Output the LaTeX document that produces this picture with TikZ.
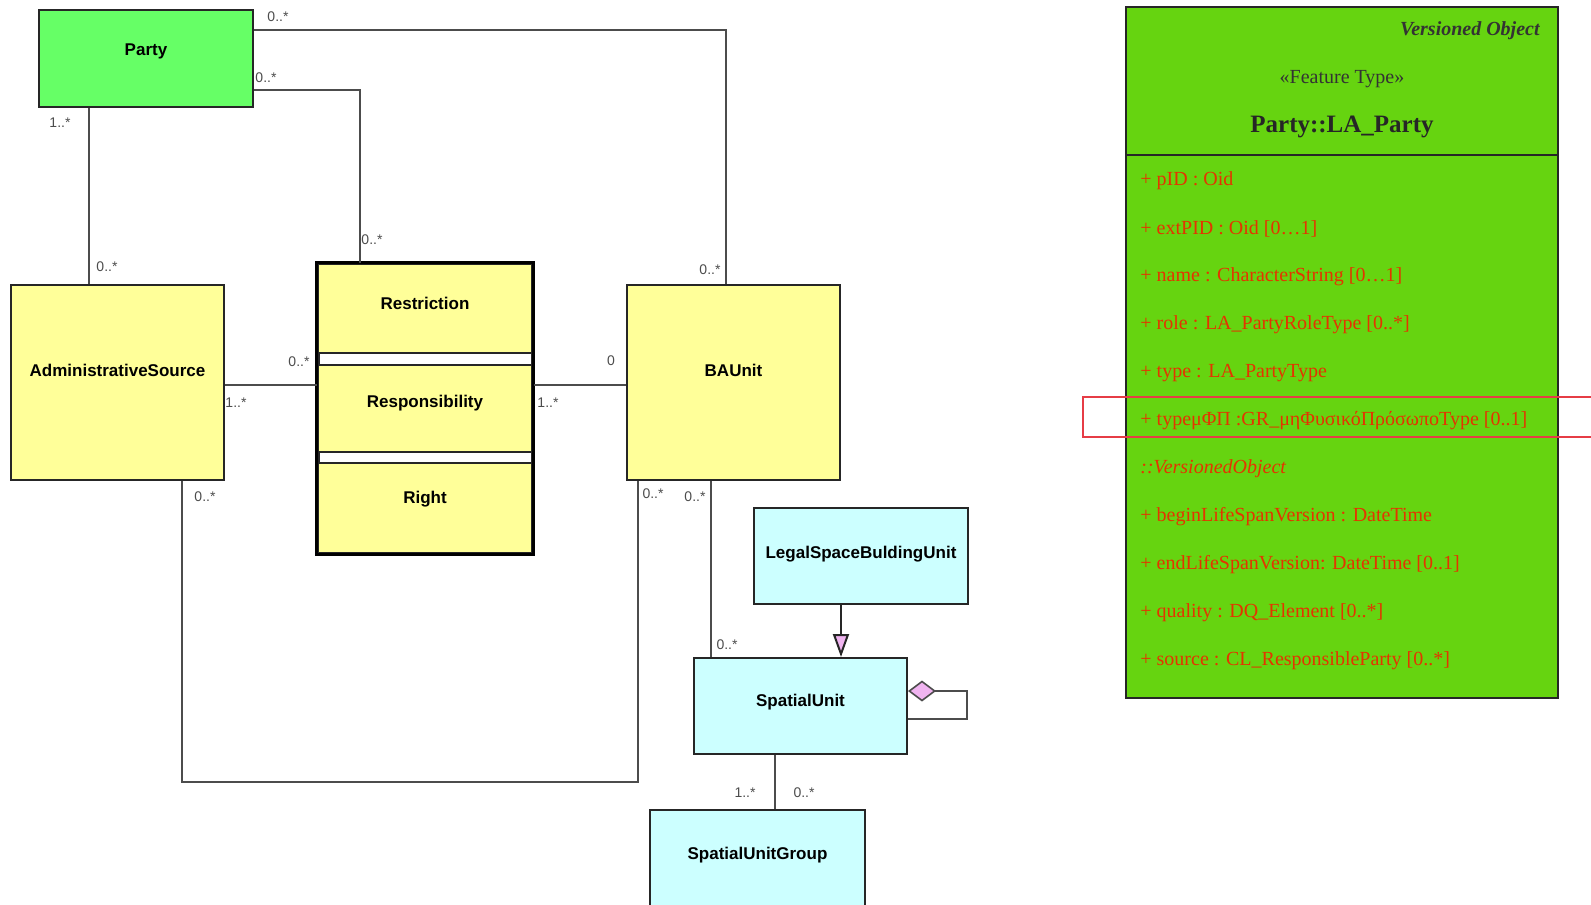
\documentclass[tikz,border=0pt]{standalone}
\usepackage{fontspec}
\setmainfont{Liberation Serif}
\newfontfamily\umlsans{Liberation Sans}
\usepackage{tikz}
\usetikzlibrary{arrows.meta,positioning}

\definecolor{partygreen}{RGB}{102,255,102}
\definecolor{classyellow}{RGB}{255,255,153}
\definecolor{classcyan}{RGB}{204,255,255}
\definecolor{lapgreen}{RGB}{102,212,16}
\definecolor{attrred}{RGB}{228,52,0}
\definecolor{hilitered}{RGB}{230,60,70}
\definecolor{genpink}{RGB}{240,180,240}

\begin{document}
\begin{tikzpicture}[x=0.5pt,y=-0.5pt,
	cls/.style={draw=black!85,line width=1pt,inner sep=0pt,font=\umlsans\bfseries\fontsize{8.5}{10}\selectfont},
	mult/.style={inner sep=0pt,text=black!70,font=\umlsans\fontsize{7}{8}\selectfont},
	assoc/.style={draw=black!70,line width=0.8pt},
	attr/.style={anchor=west,inner sep=0pt,text=attrred,font=\fontsize{10}{12}\selectfont}]
	\useasboundingbox (0,0) rectangle (1591,905);
	
	% classes
	\node[cls, fill=partygreen, minimum width=107pt, minimum height=48.5pt, text depth=8.5pt] (party) at (146,58.5) {Party};
	\node[cls, fill=classyellow, minimum width=106.5pt, minimum height=97.5pt, text depth=12.5pt] (admin) at (117.5,382.5) {AdministrativeSource};
	\node[cls, fill=white, line width=1.5pt, minimum width=107pt, minimum height=144.5pt] (rrr) at (425,408.5) {};
	\node[cls, fill=classyellow, minimum width=107pt, minimum height=44.5pt, text depth=5.5pt] (restr) at (425,308.5) {Restriction};
	\node[cls, fill=classyellow, minimum width=107pt, minimum height=43.5pt, text depth=7.5pt] (resp) at (425,408.5) {Responsibility};
	\node[cls, fill=classyellow, minimum width=107pt, minimum height=45pt, text depth=11pt] (right) at (425,508) {Right};
	\draw[line width=1.5pt] (rrr.north west) rectangle (rrr.south east);
	\node[cls, fill=classyellow, minimum width=106.5pt, minimum height=97.5pt, text depth=12.5pt] (baunit) at (733.5,382.5) {BAUnit};
	\node[cls, fill=classcyan, minimum width=107pt, minimum height=48pt, text depth=4pt] (lsbu) at (861,556) {LegalSpaceBuldingUnit};
	\node[cls, fill=classcyan, minimum width=106.5pt, minimum height=48pt, text depth=6pt] (su) at (800.5,706) {SpatialUnit};
	\node[cls, fill=classcyan, minimum width=107.5pt, minimum height=55pt, text depth=12pt] (sug) at (757.5,865) {SpatialUnitGroup};
	
	% associations
	\draw[assoc] (party.east |- 0,30) -| (726,0 |- baunit.north);
	\draw[assoc] (party.east |- 0,90) -| (360,0 |- rrr.north);
	\draw[assoc] (89,0 |- party.south) -- (89,0 |- admin.north);
	\draw[assoc] (admin.east |- 0,385) -- (rrr.west |- 0,385);
	\draw[assoc] (rrr.east |- 0,385) -- (baunit.west |- 0,385);
	\draw[assoc] (182,0 |- admin.south) |- (638,782) -- (638,0 |- baunit.south);
	\draw[assoc] (711,0 |- baunit.south) -- (711,0 |- su.north);
	\draw[assoc] (775,0 |- su.south) -- (775,0 |- sug.north);
	\draw[assoc, draw=black!85, line width=1pt, -{Triangle[length=11.5pt,width=8pt,fill=genpink]}] (841,0 |- lsbu.south) -- (841,0 |- su.north);
	\draw[assoc, {Diamond[length=14pt,width=10.5pt,fill=genpink]}-] (su.east |- 0,691) -- (967,691) |- (su.east |- 0,719);
	
	% multiplicities
	\node[mult] (m1) at (278,17) {0..*};
	\node[mult] (m2) at (266,78) {0..*};
	\node[mult] (m3) at (60,123) {1..*};
	\node[mult] (m4) at (107,267) {0..*};
	\node[mult] (m5) at (372,240) {0..*};
	\node[mult] (m6) at (710,270) {0..*};
	\node[mult] (m7) at (299,362) {0..*};
	\node[mult] (m8) at (236,403) {1..*};
	\node[mult] (m9) at (548,403) {1..*};
	\node[mult] (m10) at (611,361) {0};
	\node[mult] (m11) at (205,497) {0..*};
	\node[mult] (m12) at (653,494) {0..*};
	\node[mult] (m13) at (695,497) {0..*};
	\node[mult] (m14) at (727,645) {0..*};
	\node[mult] (m15) at (745,793) {1..*};
	\node[mult] (m16) at (804,793) {0..*};
	
	% LA_Party class
	\node[draw=black!85, line width=1pt, fill=lapgreen, minimum width=216pt, minimum height=345.5pt] (lap) at (1342,352.5) {};
	\draw[line width=1pt, black!85] (lap.west |- 0,155) -- (lap.east |- 0,155);
	\node[anchor=east, inner sep=0pt, font=\bfseries\itshape\fontsize{10}{12}\selectfont, text=black!80] (verobj) at (1540,31) {Versioned Object};
	\node[inner sep=0pt, font=\fontsize{10}{12}\selectfont, text=black!80] (stereo) at (1342,79) {«Feature Type»};
	\node[inner sep=0pt, font=\bfseries\fontsize{12.5}{14}\selectfont, text=black!85] (lapname) at (1342,127) {Party::LA\_Party};
	\foreach \y/\t [count=\i] in {181/{+ pID : Oid}, 229/{+ extPID : Oid [0\ldots1]}, 277/{+ name : CharacterString [0\ldots1]}, 325/{+ role : LA\_PartyRoleType [0..*]}, 373/{+ type : LA\_PartyType}, 421/{+ typeμΦΠ :GR\_μηΦυσικόΠρόσωποType [0..1]}, 469/{\itshape ::VersionedObject}, 517/{+ beginLifeSpanVersion : DateTime}, 565/{+ endLifeSpanVersion: DateTime [0..1]}, 613/{+ quality : DQ\_Element [0..*]}, 661/{+ source : CL\_ResponsibleParty [0..*]}}
		\node[attr] (attr\i) at (1140,\y) {\t};
	\draw[hilitered, line width=1.2pt] (1083,397) rectangle (1620,437);
\end{tikzpicture}
\end{document}
